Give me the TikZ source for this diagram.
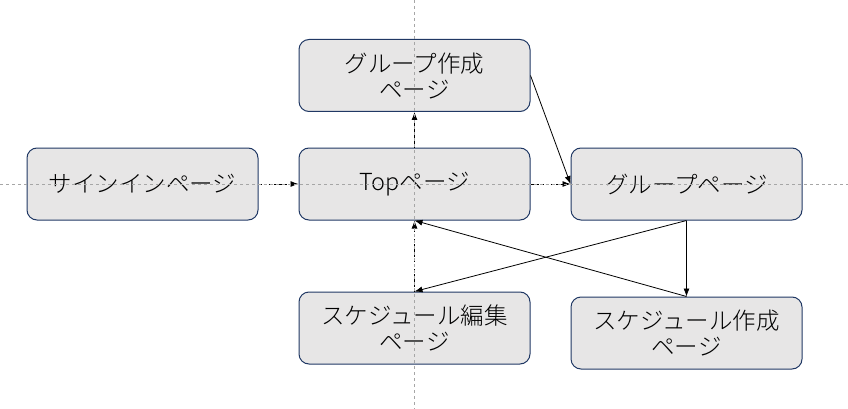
\documentclass[tikz,border=0pt]{standalone}
\usepackage{fontspec}
\setmainfont{Noto Sans CJK JP}[UprightFont=* Light]
\usetikzlibrary{arrows.meta}
\definecolor{pagefill}{HTML}{E7E6E6}
\definecolor{pageline}{HTML}{203864}
\definecolor{guide}{HTML}{A6A6A6}
\begin{document}
\begin{tikzpicture}[x=1pt, y=-1pt,
    page/.style={shape=rectangle, rounded corners=10pt, fill=pagefill, draw=pageline, line width=1pt,
        minimum width=231pt, minimum height=72pt, inner sep=0pt, align=center,
        font=\fontsize{23.5pt}{26pt}\selectfont},
    link/.style={-{Latex[length=8pt, width=6pt]}, line width=0.8pt},
    golink/.style={link, dash pattern=on 3pt off 2pt}]

    \useasboundingbox (0,0) rectangle (848,409);

    \node[page] (Signin) at (142.5,184) {サインインページ};
    \node[page] (Top) at (414.5,184) {Topページ};
    \node[page] (GroupNew) at (414.5,75.5) {グループ作成\\ページ};
    \node[page] (Group) at (686.5,184) {グループページ};
    \node[page] (SchedEdit) at (414.5,328) {スケジュール編集\\ページ};
    \node[page] (SchedNew) at (686.5,333) {スケジュール作成\\ページ};

    \path[golink] (Signin) edge (Top);
    \path[golink] (Top) edge (Group);
    \path[link] (Top) edge (GroupNew);
    \path[link] (GroupNew.east) edge (Group.west);
    \path[link] (Group.south) edge (SchedEdit.north);
    \path[link] (Group) edge (SchedNew);
    \path[link] (SchedNew.north) edge (Top.south);
    \path[golink] (SchedEdit) edge (Top);

    \draw[guide, line width=0.8pt, dash pattern=on 3pt off 3pt] (0,184) -- (848,184);
    \draw[guide, line width=0.8pt, dash pattern=on 3pt off 3pt] (414.5,0) -- (414.5,409);
\end{tikzpicture}
\end{document}
